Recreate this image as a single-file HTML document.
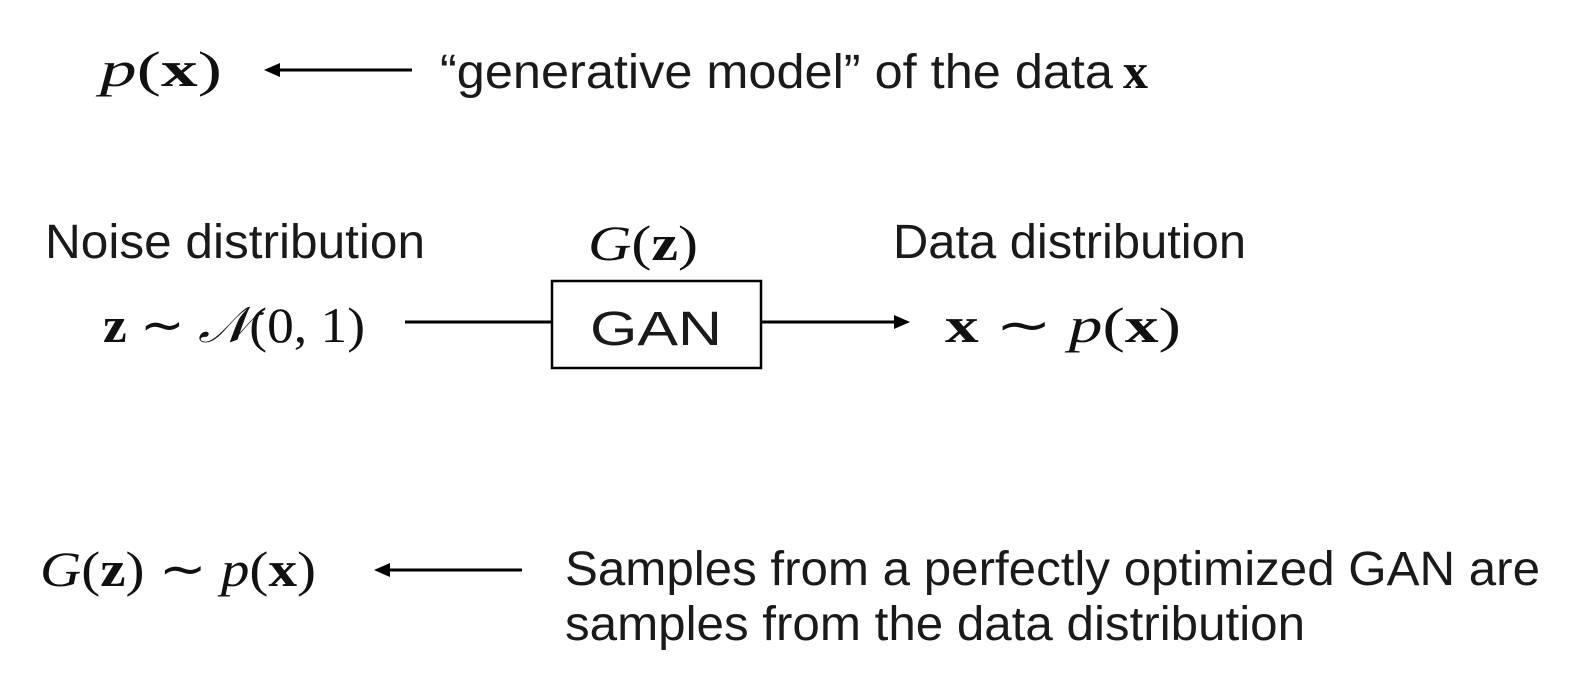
<!DOCTYPE html>
<html><head><meta charset="utf-8"><style>
html,body{margin:0;padding:0;background:#fff;}
svg{display:block}
.s{font-family:"Liberation Sans",sans-serif;font-size:48px;fill:#1a1a1a}
.m{font-family:"Liberation Serif",serif;font-size:50px;fill:#111}
</style></head><body>
<svg width="1588" height="688" viewBox="0 0 1588 688" xmlns="http://www.w3.org/2000/svg">
<!-- row 1 -->
<text class="m" x="100" y="86" textLength="122" lengthAdjust="spacingAndGlyphs"><tspan font-style="italic">p</tspan>(<tspan font-weight="bold">x</tspan>)</text>
<line x1="275" y1="70" x2="412" y2="70" stroke="#000" stroke-width="3"/>
<polygon points="264,70 280,63 280,77" fill="#000"/>
<text class="s" x="440" y="88" textLength="673" lengthAdjust="spacingAndGlyphs">“generative model” of the data</text>
<text class="m" x="1123" y="88" font-weight="bold">x</text>

<!-- row 2 -->
<text class="s" x="45" y="258" textLength="380" lengthAdjust="spacingAndGlyphs">Noise distribution</text>
<text class="m" x="588" y="260" textLength="110" lengthAdjust="spacingAndGlyphs"><tspan font-style="italic">G</tspan>(<tspan font-weight="bold">z</tspan>)</text>
<text class="s" x="893" y="258" textLength="353" lengthAdjust="spacingAndGlyphs">Data distribution</text>

<text class="m" x="103" y="342" textLength="262" lengthAdjust="spacingAndGlyphs"><tspan font-weight="bold">z</tspan> ∼ <tspan font-style="italic">𝒩</tspan>(0, 1)</text>
<line x1="405" y1="322" x2="552" y2="322" stroke="#000" stroke-width="3"/>
<rect x="552" y="281" width="209" height="87" fill="none" stroke="#000" stroke-width="2.5"/>
<text class="s" x="656" y="345" text-anchor="middle" textLength="132" lengthAdjust="spacingAndGlyphs">GAN</text>
<line x1="762" y1="322" x2="898" y2="322" stroke="#000" stroke-width="3"/>
<polygon points="910,322 894,315 894,329" fill="#000"/>
<text class="m" x="945" y="342" textLength="236" lengthAdjust="spacingAndGlyphs"><tspan font-weight="bold">x</tspan> ∼ <tspan font-style="italic">p</tspan>(<tspan font-weight="bold">x</tspan>)</text>

<!-- row 3 -->
<text class="m" x="40" y="586" textLength="276" lengthAdjust="spacingAndGlyphs"><tspan font-style="italic">G</tspan>(<tspan font-weight="bold">z</tspan>) ∼ <tspan font-style="italic">p</tspan>(<tspan font-weight="bold">x</tspan>)</text>
<line x1="385" y1="570" x2="522" y2="570" stroke="#000" stroke-width="3"/>
<polygon points="374,570 390,563 390,577" fill="#000"/>
<text class="s" x="565" y="585" textLength="975" lengthAdjust="spacingAndGlyphs">Samples from a perfectly optimized GAN are</text>
<text class="s" x="565" y="640" textLength="740" lengthAdjust="spacingAndGlyphs">samples from the data distribution</text>
</svg>
</body></html>
